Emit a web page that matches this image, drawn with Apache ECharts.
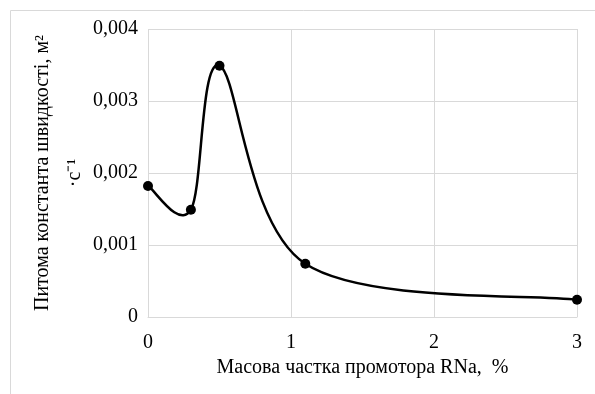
<!DOCTYPE html>
<html><head><meta charset="utf-8">
<script src="https://cdn.jsdelivr.net/npm/echarts@6/dist/echarts.min.js"></script>
<style>html,body{margin:0;padding:0;background:#fff}#c{width:595px;height:394px}</style>
</head><body><div id="c"></div>
<script>
const xValues = [0, 0.3, 0.5, 1.1, 3];
const yValues = [0.00182, 0.00149, 0.00349, 0.00074, 0.00024];
const xTicks = [0, 1, 2, 3];
const yTicks = ['0', '0,001', '0,002', '0,003', '0,004'];
const xTitle = 'Масова частка промотора RNa,  %';
const yTitle = 'Питома константа швидкості, м²\n·с⁻¹';

const chart = echarts.init(document.getElementById('c'), null, {renderer: 'canvas'});
const font = 'Liberation Serif, Times New Roman, serif';
const pts = xValues.map((x, i) => [x, yValues[i]]);

// Excel-like smoothed line: cubic Bezier segments with Catmull-Rom control points (1/6),
// computed in pixel space from the library's own coordinate conversion.
function renderSegment(params, api) {
  const i = params.dataIndex;
  const n = pts.length;
  if (i >= n - 1) return null;
  const P = k => api.coord(pts[Math.max(0, Math.min(n - 1, k))]);
  const p0 = P(i - 1), p1 = P(i), p2 = P(i + 1), p3 = P(i + 2);
  return {
    type: 'bezierCurve',
    shape: {
      x1: p1[0], y1: p1[1], x2: p2[0], y2: p2[1],
      cpx1: p1[0] + (p2[0] - p0[0]) / 6, cpy1: p1[1] + (p2[1] - p0[1]) / 6,
      cpx2: p2[0] - (p3[0] - p1[0]) / 6, cpy2: p2[1] - (p3[1] - p1[1]) / 6
    },
    style: {stroke: '#000', lineWidth: 2.5, fill: null}
  };
}

chart.setOption({
  animation: false,
  graphic: [{type: 'rect', shape: {x: 10.5, y: 10.5, width: 700, height: 500}, style: {fill: 'none', stroke: '#d9d9d9', lineWidth: 1}, z: -1}],
  grid: {left: 148, right: 18, top: 29, bottom: 77},
  xAxis: {
    type: 'value', min: 0, max: 3, interval: 1,
    name: xTitle, nameLocation: 'middle', nameGap: 41, nameMoveOverlap: false,
    nameTextStyle: {fontFamily: font, fontSize: 20, color: '#000'},
    axisLine: {show: true, lineStyle: {color: '#d9d9d9', width: 1}},
    axisTick: {show: false},
    axisLabel: {fontFamily: font, fontSize: 20, color: '#000', margin: 16, formatter: v => String(v)},
    splitLine: {show: true, lineStyle: {color: '#d9d9d9', width: 1}}
  },
  yAxis: {
    type: 'value', min: 0, max: 0.004, interval: 0.001,
    name: yTitle, nameLocation: 'middle', nameGap: 57, nameRotate: 90, nameMoveOverlap: false,
    nameTextStyle: {fontFamily: font, fontSize: 20, color: '#000', lineHeight: 32, align: 'center'},
    axisLine: {show: false},
    axisTick: {show: false},
    axisLabel: {fontFamily: font, fontSize: 20, color: '#000', margin: 10,
      formatter: v => yTicks[Math.round(v / 0.001)]},
    splitLine: {show: true, lineStyle: {color: '#d9d9d9', width: 1}}
  },
  series: [{
    type: 'custom',
    renderItem: renderSegment,
    data: pts,
    clip: false,
    z: 2
  }, {
    type: 'scatter',
    data: pts,
    symbol: 'circle', symbolSize: 10,
    itemStyle: {color: '#000', opacity: 1},
    z: 3
  }]
});
</script></body></html>
